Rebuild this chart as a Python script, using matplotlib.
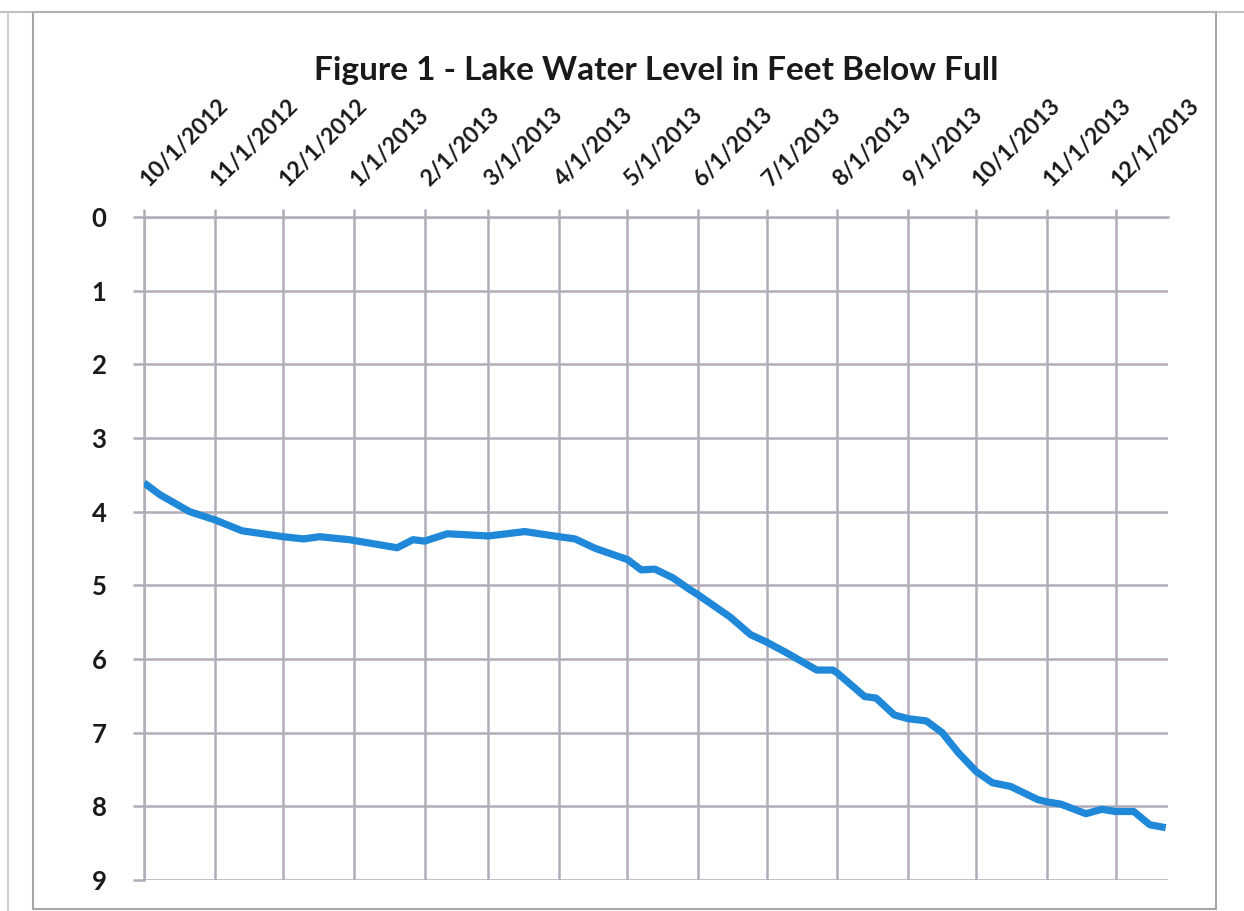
import matplotlib
matplotlib.use('Agg')
import matplotlib.pyplot as plt
import pandas as pd
from matplotlib.lines import Line2D
from matplotlib.patches import Rectangle

# ---- data ----
dates = ['10/1/2012', '10/8/2012', '10/21/2012', '11/1/2012', '11/13/2012',
         '12/1/2012', '12/10/2012', '12/17/2012', '12/30/2012', '1/20/2013',
         '1/27/2013', '2/1/2013', '2/11/2013', '3/1/2013', '3/17/2013',
         '4/1/2013', '4/8/2013', '4/17/2013', '5/1/2013', '5/7/2013',
         '5/13/2013', '5/21/2013', '5/27/2013', '6/1/2013', '6/15/2013',
         '6/24/2013', '7/1/2013', '7/10/2013', '7/23/2013', '7/30/2013',
         '8/1/2013', '8/13/2013', '8/18/2013', '8/26/2013', '9/1/2013',
         '9/9/2013', '9/16/2013', '9/23/2013', '10/1/2013', '10/8/2013',
         '10/16/2013', '10/28/2013', '11/1/2013', '11/7/2013', '11/18/2013',
         '11/25/2013', '12/1/2013', '12/9/2013', '12/16/2013', '12/23/2013']
levels = [3.61, 3.77, 4.00, 4.11, 4.26,
          4.34, 4.37, 4.34, 4.38, 4.49,
          4.38, 4.40, 4.30, 4.33, 4.27,
          4.34, 4.37, 4.50, 4.65, 4.79,
          4.78, 4.90, 5.03, 5.13, 5.43,
          5.67, 5.77, 5.92, 6.15, 6.15,
          6.19, 6.51, 6.53, 6.76, 6.81,
          6.84, 7.00, 7.27, 7.53, 7.68,
          7.73, 7.91, 7.94, 7.97, 8.10,
          8.04, 8.07, 8.07, 8.25, 8.29]
month_ticks = ['10/1/2012', '11/1/2012', '12/1/2012', '1/1/2013', '2/1/2013',
               '3/1/2013', '4/1/2013', '5/1/2013', '6/1/2013', '7/1/2013',
               '8/1/2013', '9/1/2013', '10/1/2013', '11/1/2013', '12/1/2013']
y_ticks = [0, 1, 2, 3, 4, 5, 6, 7, 8, 9]
title = 'Figure 1 - Lake Water Level in Feet Below Full'

plt.rcParams['font.family'] = ['Lato', 'DejaVu Sans']

W, H = 1244, 911
GRID = '#b2abb8'
LINE = '#1f88d8'
TEXT = '#1a1a1a'

fig = plt.figure(figsize=(W / 100, H / 100), dpi=100)
fig.patch.set_facecolor('white')

ax = fig.add_axes([144 / W, 1 - 880 / H, (1168 - 144) / W, (880 - 217) / H])

x = pd.to_datetime(dates, format='%m/%d/%Y')
ax.plot(x, levels, color=LINE, lw=5.2, solid_joinstyle='round',
        solid_capstyle='butt', zorder=3)

ax.set_ylim(max(y_ticks), min(y_ticks))
ax.set_xlim(pd.Timestamp('2012-10-01'), pd.Timestamp('2013-12-24'))

ax.set_yticks(y_ticks)
ax.set_yticklabels([str(v) for v in y_ticks])
tick_pos = pd.to_datetime(month_ticks, format='%m/%d/%Y')
ax.set_xticks(tick_pos)
ax.set_xticklabels(month_ticks)

ax.xaxis.tick_top()
ax.grid(True, color=GRID, lw=1.8, zorder=1)
ax.set_axisbelow(True)
for side in ['right', 'bottom']:
    ax.spines[side].set_visible(False)
for side in ['left', 'top']:
    ax.spines[side].set_color(GRID)
    ax.spines[side].set_linewidth(1.8)

ax.tick_params(axis='x', direction='out', length=6, width=1.8, color=GRID,
               pad=19, labelsize=16.5, labelcolor=TEXT)
ax.tick_params(axis='y', direction='out', length=8, width=1.8, color=GRID,
               pad=19, labelsize=18.5, labelcolor=TEXT)
plt.setp(ax.get_xticklabels(), rotation=45, ha='left', va='center',
         rotation_mode='anchor', fontweight='bold')
plt.setp(ax.get_yticklabels(), fontweight='bold')

fig.text(656 / W, 1 - 80 / H, title, ha='center', va='baseline',
         fontsize=24, fontweight='bold', color=TEXT)

# chart frame
fig.add_artist(Rectangle((33 / W, 1 - 909 / H), (1216 - 33) / W, (909 - 12) / H,
                         transform=fig.transFigure, fill=False,
                         ec='#a6a6a6', lw=1.5))
fig.add_artist(Line2D([0, 1], [1 - 12 / H, 1 - 12 / H], transform=fig.transFigure,
                      color='#b5b5b5', lw=1.2))
fig.add_artist(Line2D([8 / W, 8 / W], [0, 1 - 12 / H], transform=fig.transFigure,
                      color='#c8c8c8', lw=1.2))

fig.savefig('out.png', dpi=100, facecolor='white')
